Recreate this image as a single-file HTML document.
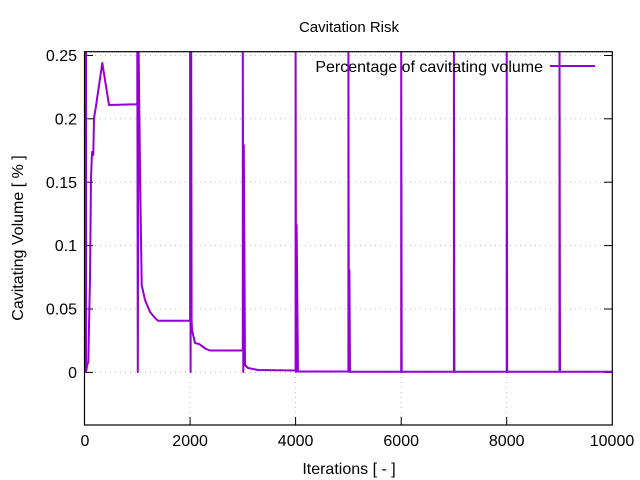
<!DOCTYPE html>
<html><head><meta charset="utf-8"><style>
html,body{margin:0;padding:0;background:#fff}
svg{display:block}
text{font-family:"Liberation Sans",Arial,sans-serif;font-size:16px;fill:#000}
</style></head><body>
<svg width="640" height="480" viewBox="0 0 640 480" xmlns="http://www.w3.org/2000/svg">
<defs><clipPath id="c"><rect x="84.5" y="51.7" width="527.8" height="373.3"/></clipPath></defs>
<g stroke="#bbb" stroke-width="1" stroke-dasharray="1,4">
<line x1="85" x2="612" y1="55.5" y2="55.5"/>
<line x1="85" x2="612" y1="118.8" y2="118.8"/>
<line x1="85" x2="612" y1="182.2" y2="182.2"/>
<line x1="85" x2="612" y1="245.6" y2="245.6"/>
<line x1="85" x2="612" y1="309" y2="309"/>
<line x1="85" x2="612" y1="372.4" y2="372.4"/>
<line y1="52" y2="425" x1="190.1" x2="190.1"/>
<line y1="52" y2="425" x1="295.6" x2="295.6"/>
<line y1="52" y2="425" x1="401.2" x2="401.2"/>
<line y1="52" y2="425" x1="506.7" x2="506.7"/>
</g>
<g stroke="#000" stroke-width="1">
<line x1="85" x2="93" y1="55.5" y2="55.5"/><line x1="85" x2="93" y1="118.8" y2="118.8"/><line x1="85" x2="93" y1="182.2" y2="182.2"/><line x1="85" x2="93" y1="245.6" y2="245.6"/><line x1="85" x2="93" y1="309" y2="309"/><line x1="85" x2="93" y1="372.4" y2="372.4"/>
<line x1="612" x2="604" y1="55.5" y2="55.5"/><line x1="612" x2="604" y1="118.8" y2="118.8"/><line x1="612" x2="604" y1="182.2" y2="182.2"/><line x1="612" x2="604" y1="245.6" y2="245.6"/><line x1="612" x2="604" y1="309" y2="309"/><line x1="612" x2="604" y1="372.4" y2="372.4"/>
<line y1="425" y2="417" x1="190.1" x2="190.1"/><line y1="425" y2="417" x1="295.6" x2="295.6"/><line y1="425" y2="417" x1="401.2" x2="401.2"/><line y1="425" y2="417" x1="506.7" x2="506.7"/>
<line y1="52" y2="60" x1="190.1" x2="190.1"/><line y1="52" y2="60" x1="295.6" x2="295.6"/><line y1="52" y2="60" x1="401.2" x2="401.2"/><line y1="52" y2="60" x1="506.7" x2="506.7"/>
</g>
<g clip-path="url(#c)" fill="none" stroke="#9400d3" stroke-width="2" stroke-linejoin="round">
<path d="M86,40 L86,372 L87,366 L88.3,361.7 L90,278 L91,178 L92,152 L93.3,155 L94,118 L95.7,108 L102.3,63 L109,105 L137.3,104.3 L137.3,40 L137.8,372 L138.5,40 L140,168 L141.7,285 L145,300 L150,312 L155,318 L158,320.7 L190.1,320.7 L190.1,40 L190.6,372 L191.2,40 L191.6,320 L192,330 L195,343 L199,344 L206,349 L210,350.5 L242.8,350.5 L242.8,40 L243.3,372 L243.8,145 L245,365 L248,368 L258,370 L295.6,370.5 L295.6,40 L296.1,372 L296.6,225 L298,371.5 L348.4,371.5 L348.4,40 L348.9,372 L349.4,270 L350,371.8 L401.2,371.8 L401.2,40 L401.7,372 L402.5,371.8 L453.9,371.8 L453.9,40 L454.4,372 L455,371.8 L506.7,371.8 L506.7,40 L507.2,372 L508,371.8 L559.5,371.8 L559.5,40 L560,372 L561,371.8 L612,371.8"/>
</g>
<rect x="84.5" y="51.7" width="527.8" height="373.3" fill="none" stroke="#000" stroke-width="1.2"/>
<g text-anchor="end">
<text x="77" y="61">0.25</text>
<text x="77" y="124.5">0.2</text>
<text x="77" y="188">0.15</text>
<text x="77" y="251">0.1</text>
<text x="77" y="314.5">0.05</text>
<text x="77" y="378">0</text>
<text x="543" y="72">Percentage of cavitating volume</text>
</g>
<line x1="550" x2="595" y1="66" y2="66" stroke="#9400d3" stroke-width="2"/>
<g text-anchor="middle">
<text x="85" y="446">0</text>
<text x="190.1" y="446">2000</text>
<text x="295.6" y="446">4000</text>
<text x="401.2" y="446">6000</text>
<text x="506.7" y="446">8000</text>
<text x="612" y="446">10000</text>
<text x="349" y="32" style="font-size:15px">Cavitation Risk</text>
<text x="349" y="474">Iterations [ - ]</text>
<text transform="translate(23,238) rotate(-90)">Cavitating Volume [ % ]</text>
</g>
</svg>
</body></html>
